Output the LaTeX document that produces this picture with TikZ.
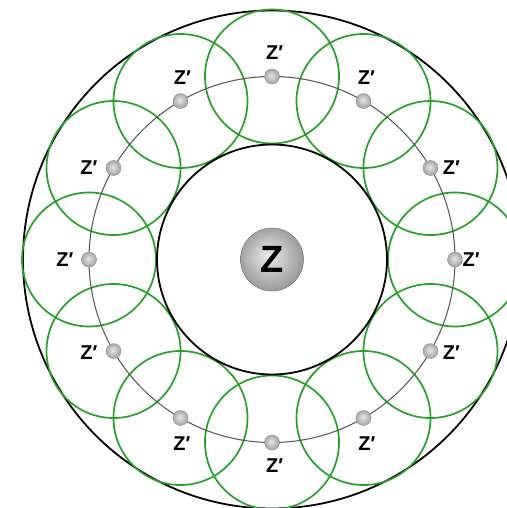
\documentclass[tikz,border=0pt]{standalone}
\usepackage{fontspec}
\setmainfont{Liberation Sans}
\usetikzlibrary{calc}
\definecolor{zgreen}{RGB}{40,160,40}
\definecolor{ringgray}{RGB}{80,80,80}
\pgfdeclareradialshading{zball}{\pgfpoint{-3bp}{3bp}}{%
  color(0bp)=(black!8); color(12bp)=(black!22); color(30bp)=(black!45);
  color(44bp)=(black!60); color(50bp)=(black!70)}
\pgfdeclareradialshading{zdot}{\pgfpoint{-3bp}{3bp}}{%
  color(0bp)=(black!10); color(15bp)=(black!25); color(35bp)=(black!45);
  color(50bp)=(black!60)}
\begin{document}
\begin{tikzpicture}[x=1pt,y=-1pt,
  bigcirc/.style={draw=black, line width=1.8pt},
  greenring/.style={draw=zgreen, line width=1.7pt},
  orbit/.style={draw=ringgray, line width=1pt},
  smalldot/.style={circle, minimum size=15pt, inner sep=0pt, shading=zdot, draw=black!45, line width=0.4pt},
  bigball/.style={circle, minimum size=63pt, inner sep=0pt, shading=zball, draw=black!55, line width=0.5pt,
    font=\bfseries\fontsize{38}{38}\selectfont},
  lab/.style={inner sep=0pt, font=\bfseries\fontsize{20}{20}\selectfont}
]
\useasboundingbox (0,0) rectangle (506,508);
\coordinate (c) at (272,259.5);
% outer boundary
\draw[bigcirc] (c) circle (249);
% positions on the orbit
\foreach \i in {0,...,11}{
  \pgfmathsetmacro{\a}{30*\i}
  \coordinate (p\i) at ({272+183*cos(\a)},{259.5-183*sin(\a)});
}
% green circles
\foreach \i in {0,...,11}{
  \draw[greenring] (p\i) circle (67);
}
% inner boundary
\draw[bigcirc] (c) circle (115);
% orbit
\draw[orbit] (c) circle (183);
% central ball
\node[bigball] (z) at (c) {Z};
% small dots
\foreach \i in {0,...,11}{
  \node[smalldot] (d\i) at (p\i) {};
}
% labels: index / dx / dy
\foreach \i/\dx/\dy in {0/13.8/0, 1/18.6/0, 2/0.5/-23.3, 3/0.3/-23.5, 4/-0.5/-23.3,
                        5/-27/0, 6/-26.5/0, 7/-27/2, 8/-1/25.5, 9/0.3/23.5, 10/1/25.5, 11/18.6/2}{
  \node[lab] (l\i) at ($(d\i)+(\dx,\dy)$) {Z\rlap{′}};
}
\end{tikzpicture}
\end{document}
